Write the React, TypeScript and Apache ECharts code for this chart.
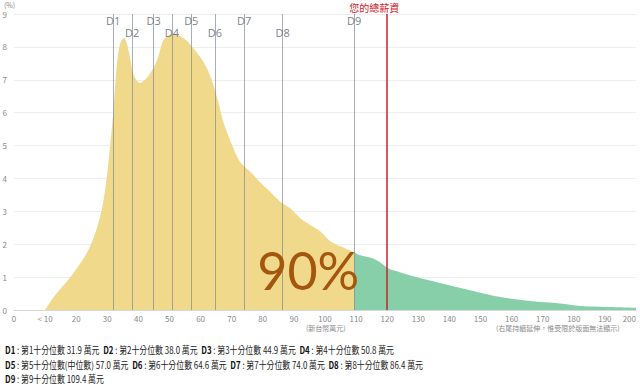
import React, { useEffect, useRef } from 'react';
import * as echarts from 'echarts';

// ---- data ----
const decileNames = ['D1', 'D2', 'D3', 'D4', 'D5', 'D6', 'D7', 'D8', 'D9'];
const decileValues = [31.9, 38.0, 44.9, 50.8, 57.0, 64.6, 74.0, 86.4, 109.4];
const decileDesc = [
  '第1十分位數', '第2十分位數', '第3十分位數', '第4十分位數', '第5十分位數(中位數)',
  '第6十分位數', '第7十分位數', '第8十分位數', '第9十分位數',
];
const decileRows = [[0, 1, 2, 3], [4, 5, 6, 7], [8]];
const yourSalary = 120;
const yourSalaryLabel = '您的總薪資';
const belowShare = '90%';

// density (%) by salary (萬元) – below D9
const lowerCurve: [number, number][] = [
  [10, 0], [13.2, 0.45], [18.6, 1.06], [23.8, 1.8], [27, 2.6], [28.9, 3.4],
  [30.5, 4.6], [31.9, 6.0], [33.2, 7.6], [34.3, 8.15], [35.4, 8.27], [36.3, 8.1],
  [37.3, 7.67], [38.3, 7.2], [39.5, 6.97], [40.5, 6.9], [42.7, 7.06], [44.8, 7.36],
  [46.3, 7.67], [47.9, 8.18], [49.5, 8.33], [51.2, 8.4], [53.4, 8.33], [55.6, 8.18],
  [57.6, 7.97], [59.8, 7.7], [62, 7.36], [64, 6.88], [65.6, 6.36], [67.2, 5.76],
  [69.5, 5.15], [72.7, 4.5], [76, 4.2], [79, 3.9], [82.3, 3.6], [85.5, 3.3],
  [88.7, 3.1], [92, 2.8], [95, 2.6], [98.4, 2.4], [101.6, 2.1], [106.4, 1.88],
  [109.4, 1.76],
];
// above D9
const upperCurve: [number, number][] = [
  [109.4, 1.76], [111, 1.67], [115, 1.58], [117.7, 1.45], [120.3, 1.27], [124, 1.15],
  [130.5, 0.97], [137, 0.82], [146.6, 0.6], [156, 0.4], [166, 0.27], [175.6, 0.2],
  [182, 0.12], [188, 0.1], [200, 0.07],
];

const xMin = 0;
const xMax = 200;
const xStep = 10;
const yMin = 0;
const yMax = 9;
const yStep = 1;

const cjk = '"Noto Sans CJK TC", "Noto Sans", sans-serif';

export default function App() {
  const ref = useRef<HTMLDivElement>(null);
  useEffect(() => {
    document.body.style.margin = '0';
    const chart = echarts.init(ref.current!, null, { renderer: 'svg' });

    const bottomLines = decileRows.map((row) =>
      row
        .map((i) => `{b|${decileNames[i]}} : ${decileDesc[i]} ${decileValues[i].toFixed(1)} 萬元`)
        .join('  ')
    );

    chart.setOption({
      animation: false,
      textStyle: { fontFamily: cjk },
      grid: { left: 14, right: 4, top: 14, bottom: 77, outerBoundsMode: 'none', containLabel: false },
      xAxis: {
        type: 'value',
        min: xMin,
        max: xMax,
        interval: xStep,
        axisLine: { show: true, lineStyle: { color: '#d8d8d8' } },
        axisTick: { show: false },
        splitLine: { show: false },
        axisLabel: {
          color: '#8a8a8a',
          fontSize: 8,
          margin: 4,
          fontFamily: cjk,
          alignMaxLabel: 'right',
          formatter: (v: number) => (v === 10 ? '< 10' : String(v)),
        },
      },
      yAxis: {
        type: 'value',
        min: yMin,
        max: yMax,
        interval: yStep,
        axisLine: { show: false },
        axisTick: { show: false },
        splitLine: { lineStyle: { color: '#eeeeee' } },
        axisLabel: { color: '#8a8a8a', fontSize: 8, margin: 7, fontFamily: cjk },
      },
      series: [
        {
          type: 'line',
          data: lowerCurve,
          smooth: 0.3,
          symbol: 'none',
          lineStyle: { width: 0 },
          areaStyle: { color: '#f1d98c', opacity: 1 },
          z: 1,
          markLine: {
            silent: true,
            symbol: 'none',
            label: { show: false },
            lineStyle: { color: 'rgba(120,130,145,0.65)', width: 1, type: 'solid' },
            data: decileValues.map((v) => ({ xAxis: v })),
          },
          markPoint: {
            silent: true,
            symbol: 'circle',
            symbolSize: 0,
            data: [{ coord: [decileValues[8], 1.2] }],
            label: {
              show: true,
              position: 'left',
              distance: 0,
              offset: [5, -1],
              formatter: belowShare,
              fontSize: 52,
              color: '#a5560e',
              fontFamily: 'Lato, "Open Sans", sans-serif',
            },
          },
        },
        {
          type: 'line',
          data: upperCurve,
          smooth: 0.3,
          symbol: 'none',
          lineStyle: { width: 0 },
          areaStyle: { color: '#86cfa8', opacity: 1 },
          z: 1,
          markLine: {
            silent: true,
            symbol: 'none',
            lineStyle: { color: '#c0262b', width: 1.5, type: 'solid' },
            label: {
              show: true,
              position: 'end',
              formatter: yourSalaryLabel,
              color: '#d0202a',
              fontSize: 10,
              distance: 2,
              offset: [-13, 0],
              fontFamily: cjk,
            },
            data: [{ xAxis: yourSalary }],
          },
        },
        {
          type: 'scatter',
          symbolSize: 0,
          silent: true,
          z: 5,
          data: decileValues.map((v, i) => ({
            name: decileNames[i],
            value: [v, i % 2 === 0 ? yMax - 0.2 : yMax - 0.57],
          })),
          label: {
            show: true,
            position: 'inside',
            formatter: '{b}',
            fontSize: 11,
            color: '#56606c',
            fontFamily: '"Open Sans", sans-serif',
          },
        },
      ],
      graphic: [
        {
          type: 'text',
          x: 4,
          y: 1,
          style: { text: '(%)', fontSize: 7, fill: '#8a8a8a', fontFamily: cjk },
        },
        {
          type: 'text',
          x: 306,
          y: 324,
          style: { text: '(新台幣萬元)', fontSize: 7, fill: '#8a8a8a', fontFamily: cjk },
        },
        {
          type: 'text',
          x: 496,
          y: 324,
          style: {
            text: '(右尾持續延伸，惟受限於版面無法顯示)',
            fontSize: 7,
            fill: '#8a8a8a',
            fontFamily: cjk,
          },
        },
        ...bottomLines.map((t, i) => ({
          type: 'text',
          x: 5,
          y: 345.5 + i * 14.5,
          scaleX: 0.79,
          style: {
            text: t,
            fontSize: 10,
            fill: '#222',
            fontFamily: cjk,
            rich: { b: { fontWeight: 'bold', fontSize: 10, fill: '#111', fontFamily: cjk } },
          },
        })),
      ],
    });
    return () => chart.dispose();
  }, []);
  return <div ref={ref} style={{ width: 640, height: 387 }} />;
}
